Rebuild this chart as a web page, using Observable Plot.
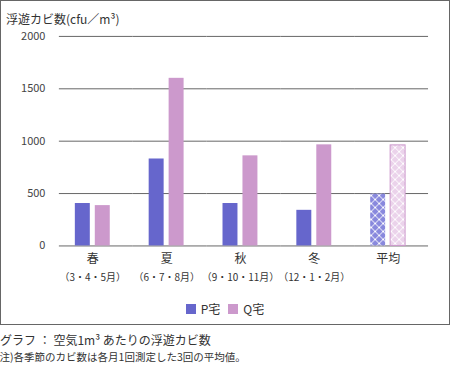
<!DOCTYPE html>
<html>
<head>
<meta charset="utf-8">
<script src="https://cdn.jsdelivr.net/npm/d3@7"></script>
<script src="https://cdn.jsdelivr.net/npm/@observablehq/plot@0.6"></script>
<style>
  html, body { margin: 0; padding: 0; background: #fff; }
  body { width: 450px; height: 380px; position: relative; overflow: hidden;
         font-family: "Noto Sans CJK JP", "Noto Sans", sans-serif; color: #333; }
  #frame { position: absolute; left: 0; top: 0; width: 448px; height: 323px; border: 1px solid #666; }
  #title { position: absolute; left: 5px; top: 9px; font-size: 12px; white-space: nowrap; }
  #chart { position: absolute; left: -1px; top: -1px; }
  #legend { position: absolute; left: 0; top: 299px; width: 448px; display: flex; justify-content: center; font-size: 12px; }
  #legend .item { display: flex; align-items: center; margin: 0 4px; }
  #legend .sw { width: 10px; height: 10px; margin-right: 5px; }
  #cap1 { position: absolute; left: 0; top: 331px; font-size: 12px; white-space: nowrap; }
  #cap2 { position: absolute; left: -4px; top: 349px; font-size: 10.5px; white-space: nowrap; }
</style>
</head>
<body>
<div id="frame">
  <div id="title">浮遊カビ数(cfu／m³)</div>
  <div id="chart"></div>
  <div id="legend"></div>
</div>
<div id="cap1">グラフ ： 空気1m³ あたりの浮遊カビ数</div>
<div id="cap2">(注)各季節のカビ数は各月1回測定した3回の平均値。</div>
<script>
const seasons = ["春", "夏", "秋", "冬", "平均"];
const seasonMonths = ["（3・4・5月）", "（6・7・8月）", "（9・10・11月）", "（12・1・2月）", ""];
const seriesNames = ["P宅", "Q宅"];
const pValues = [405, 830, 405, 340, 495];
const qValues = [385, 1600, 860, 965, 960];
const yTicks = [0, 500, 1000, 1500, 2000];
const seriesColors = ["#6666cc", "#cc99cc"];

const data = [];
seasons.forEach((s, i) => {
  data.push({season: s, series: seriesNames[0], value: pValues[i]});
  data.push({season: s, series: seriesNames[1], value: qValues[i]});
});
const monthsOf = Object.fromEntries(seasons.map((s, i) => [s, seasonMonths[i]]));
const isAvg = d => d.season === seasons[seasons.length - 1];

const chart = Plot.plot({
  width: 450,
  height: 290,
  marginTop: 36,
  marginBottom: 44,
  marginLeft: 59,
  marginRight: 21,
  style: {fontFamily: "'Noto Sans CJK JP', sans-serif", fontSize: "11px", color: "#333", background: "transparent"},
  fx: {domain: seasons, padding: 0, label: null},
  x: {domain: seriesNames, paddingInner: 0.238, paddingOuter: 0.881, align: 0.405, axis: null},
  y: {domain: [0, 2000], label: null},
  color: {type: "identity"},
  marks: [
    Plot.gridY(yTicks, {stroke: "#666", strokeOpacity: 1, strokeWidth: 1}),
    Plot.axisY(yTicks, {tickSize: 0, tickPadding: 14, label: null, fontSize: 11, fill: "#444", tickFormat: d => String(d)}),
    Plot.barY(data, {
      fx: "season", x: "series", y: "value",
      fill: d => isAvg(d) ? (d.series === seriesNames[0] ? "url(#patP)" : "url(#patQ)")
                          : (d.series === seriesNames[0] ? seriesColors[0] : seriesColors[1]),
      stroke: d => (isAvg(d) && d.series === seriesNames[1]) ? seriesColors[1] : "none",
      strokeWidth: 1
    }),
    Plot.axisFx({anchor: "bottom", tickSize: 0, tickPadding: 9, fontSize: 12, dx: -3.5, label: null, fill: "#333"}),
    Plot.axisFx({anchor: "bottom", tickSize: 0, tickPadding: 28, fontSize: 10, dx: -3.5, label: null, fill: "#333",
                 tickFormat: d => monthsOf[d]})
  ]
});

d3.select(chart).insert("defs", ":first-child").html(`
  <pattern id="patP" width="8" height="8" patternUnits="userSpaceOnUse">
    <rect width="8" height="8" fill="#8888dd"/>
    <path d="M0,0L8,8M8,0L0,8" stroke="#fff" stroke-width="1"/>
  </pattern>
  <pattern id="patQ" width="8" height="8" patternUnits="userSpaceOnUse">
    <rect width="8" height="8" fill="#ebd3eb"/>
    <path d="M0,0L8,8M8,0L0,8" stroke="#fff" stroke-width="1"/>
  </pattern>`);

document.getElementById("chart").appendChild(chart);

const legend = d3.select("#legend");
seriesNames.forEach((name, i) => {
  const item = legend.append("div").attr("class", "item");
  item.append("div").attr("class", "sw").style("background", seriesColors[i]);
  item.append("span").text(name);
});
</script>
</body>
</html>
